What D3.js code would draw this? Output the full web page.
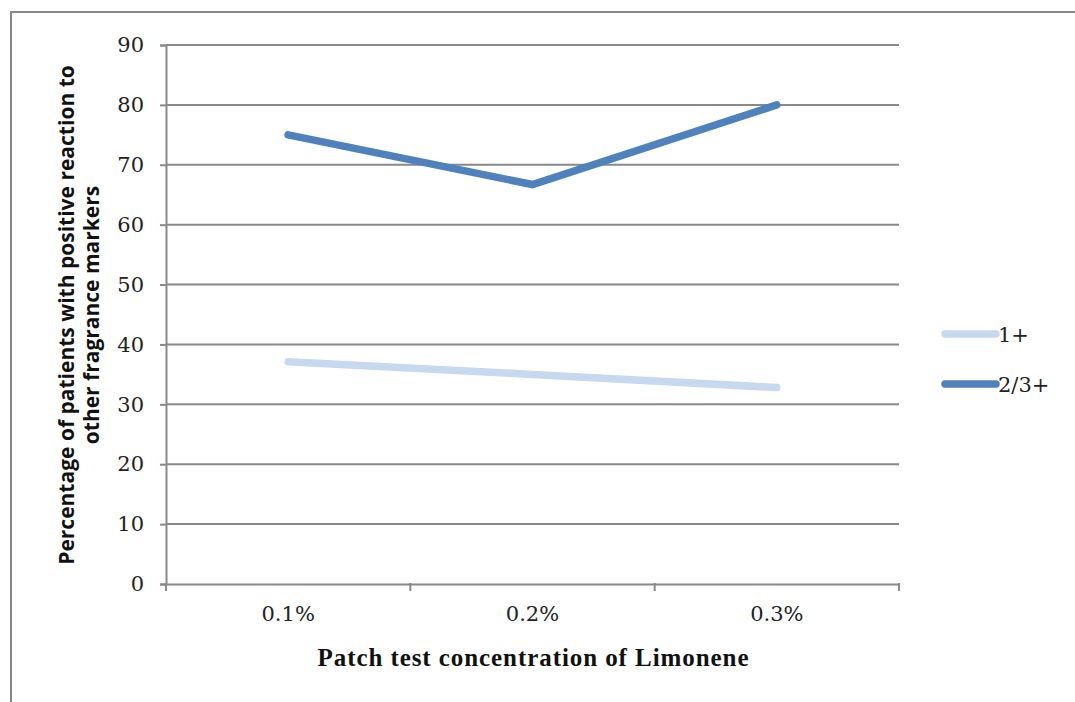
<!DOCTYPE html>
<html>
<head>
<meta charset="utf-8">
<script src="https://cdn.jsdelivr.net/npm/d3@7"></script>
<style>
  html, body { margin: 0; padding: 0; background: #fff; }
  svg { display: block; }
</style>
</head>
<body>
<svg id="chart" width="1075" height="702"></svg>
<script>
// Patch test concentrations (x categories)
const categories = ["0.1%", "0.2%", "0.3%"];
// Percentage of patients with positive reaction to other fragrance markers
const seriesNames = ["1+", "2/3+"];
const valuesOnePlus = [37.1, 35.0, 32.8];
const valuesTwoThreePlus = [75.0, 66.7, 80.0];
const yTicks = [0, 10, 20, 30, 40, 50, 60, 70, 80, 90];

const colors = { "1+": "#c6d9f1", "2/3+": "#4f81bd" };
const series = [
  { name: seriesNames[0], values: valuesOnePlus },
  { name: seriesNames[1], values: valuesTwoThreePlus }
];

const svg = d3.select("#chart");
const gridColor = "#898989";
const serif = "'DejaVu Serif', 'Liberation Serif', serif";
const titleSerif = "'Liberation Serif', serif";
const sans = "'Open Sans', Lato, sans-serif";

// Outer frame (partly beyond the window on the right and bottom)
svg.append("rect")
  .attr("x", 11).attr("y", 12)
  .attr("width", 1100).attr("height", 760)
  .attr("fill", "none").attr("stroke", gridColor).attr("stroke-width", 2);

const plot = { left: 166, right: 899, top: 45, bottom: 584 };

const x = d3.scaleBand().domain(categories).range([plot.left, plot.right]).paddingInner(0).paddingOuter(0);
const y = d3.scaleLinear().domain([0, 90]).range([plot.bottom, plot.top]);

// Horizontal gridlines
svg.append("g")
  .selectAll("line")
  .data(yTicks.filter(d => d > 0))
  .join("line")
  .attr("x1", plot.left).attr("x2", plot.right)
  .attr("y1", d => y(d)).attr("y2", d => y(d))
  .attr("stroke", gridColor).attr("stroke-width", 2);

// Y axis
const yAxis = svg.append("g")
  .attr("transform", `translate(${plot.left},0)`)
  .call(d3.axisLeft(y).tickValues(yTicks).tickSize(6).tickPadding(16).tickFormat(d3.format("d")));
yAxis.select(".domain").attr("stroke", gridColor).attr("stroke-width", 2);
yAxis.selectAll(".tick line").attr("stroke", gridColor).attr("stroke-width", 2);
yAxis.selectAll(".tick text")
  .attr("font-family", serif).attr("font-size", 21).attr("fill", "#222");

// X axis with ticks at category boundaries
const xAxis = svg.append("g")
  .attr("transform", `translate(0,${plot.bottom})`)
  .call(d3.axisBottom(x).tickSize(0).tickPadding(22).tickSizeOuter(0));
xAxis.select(".domain").attr("stroke", gridColor).attr("stroke-width", 2);
xAxis.selectAll(".tick text")
  .attr("font-family", serif).attr("font-size", 21).attr("fill", "#222");

const boundaries = categories.map(c => x(c)).concat([x(categories[categories.length - 1]) + x.bandwidth()]);
svg.append("g")
  .selectAll("line")
  .data(boundaries)
  .join("line")
  .attr("x1", d => d).attr("x2", d => d)
  .attr("y1", plot.bottom - 1).attr("y2", plot.bottom + 7)
  .attr("stroke", gridColor).attr("stroke-width", 2);

// Series lines
const line = d3.line()
  .x((d, i) => x(categories[i]) + x.bandwidth() / 2)
  .y(d => y(d));

svg.append("g")
  .selectAll("path")
  .data(series)
  .join("path")
  .attr("d", d => line(d.values))
  .attr("fill", "none")
  .attr("stroke", d => colors[d.name])
  .attr("stroke-width", 7.5)
  .attr("stroke-linecap", "round")
  .attr("stroke-linejoin", "miter");

// Legend
const legend = svg.append("g");
series.forEach((s, i) => {
  const ly = 334 + i * 50;
  legend.append("line")
    .attr("x1", 945).attr("x2", 996)
    .attr("y1", ly).attr("y2", ly)
    .attr("stroke", colors[s.name]).attr("stroke-width", 7.5)
    .attr("stroke-linecap", "round");
  legend.append("text")
    .attr("x", 998).attr("y", ly + 8)
    .attr("font-family", serif).attr("font-size", 21).attr("fill", "#222")
    .text(s.name);
});

// Axis titles
svg.append("text")
  .attr("x", 533).attr("y", 666)
  .attr("text-anchor", "middle")
  .attr("font-family", titleSerif).attr("font-weight", "bold").attr("font-size", 25).attr("fill", "#111")
  .attr("textLength", 431).attr("lengthAdjust", "spacing")
  .text("Patch test concentration of Limonene");

const yTitle = svg.append("text")
  .attr("transform", "translate(0,315) rotate(-90)")
  .attr("text-anchor", "middle")
  .attr("font-family", sans).attr("font-weight", "bold").attr("font-size", 21).attr("fill", "#111");
yTitle.append("tspan").attr("x", 0).attr("y", 74).text("Percentage of patients with positive reaction to");
yTitle.append("tspan").attr("x", 0).attr("y", 99).text("other fragrance markers");
</script>
</body>
</html>
